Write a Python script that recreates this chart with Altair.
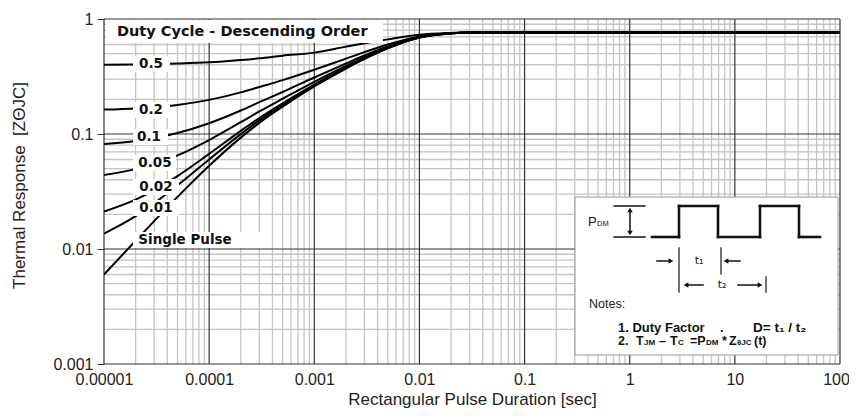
import altair as alt
import pandas as pd

# ---------------- data ----------------
t_sec = [1e-5, 2e-5, 5e-5, 1e-4, 2e-4, 3e-4, 5e-4, 1e-3, 2e-3, 3e-3, 5e-3,
         1e-2, 2e-2, 3e-2, 1e-1, 1, 10, 100]
d_050 = [0.40, 0.403, 0.41, 0.42, 0.44, 0.455, 0.48, 0.51, 0.575, 0.615, 0.665,
         0.73, 0.757, 0.765, 0.765, 0.765, 0.765, 0.765]
d_020 = [0.163, 0.167, 0.179, 0.198, 0.23, 0.256, 0.294, 0.362, 0.452, 0.515, 0.60,
         0.706, 0.753, 0.765, 0.765, 0.765, 0.765, 0.765]
d_010 = [0.082, 0.087, 0.102, 0.124, 0.16, 0.189, 0.232, 0.31, 0.41, 0.482, 0.578,
         0.698, 0.752, 0.765, 0.765, 0.765, 0.765, 0.765]
d_005 = [0.044, 0.0495, 0.0652, 0.0886, 0.1266, 0.157, 0.2026, 0.284, 0.3907, 0.4658, 0.5674,
         0.6938, 0.751, 0.765, 0.765, 0.765, 0.765, 0.765]
d_002 = [0.0212, 0.0269, 0.0431, 0.0672, 0.1064, 0.1378, 0.1848, 0.2691, 0.3789, 0.4563, 0.5612,
         0.6915, 0.75, 0.765, 0.765, 0.765, 0.765, 0.765]
d_001 = [0.0136, 0.0193, 0.0358, 0.0601, 0.0997, 0.1314, 0.1789, 0.2641, 0.3749, 0.4532, 0.5591,
         0.6908, 0.75, 0.765, 0.765, 0.765, 0.765, 0.765]
single = [0.006, 0.0118, 0.0284, 0.053, 0.093, 0.125, 0.173, 0.259, 0.371, 0.45, 0.557,
          0.69, 0.75, 0.765, 0.765, 0.765, 0.765, 0.765]

series_names = ["0.5", "0.2", "0.1", "0.05", "0.02", "0.01", "Single Pulse"]
series_vals = [d_050, d_020, d_010, d_005, d_002, d_001, single]

x_major = [1e-5, 1e-4, 1e-3, 1e-2, 1e-1, 1, 10, 100]
y_major = [0.001, 0.01, 0.1, 1]
x_minor = [m * 10.0 ** k for k in range(-5, 2) for m in range(2, 10)]
y_minor = [m * 10.0 ** k for k in range(-3, 0) for m in range(2, 10)]

rows = []
for name, vals in zip(series_names, series_vals):
    for tt, v in zip(t_sec, vals):
        rows.append({"series": name, "t": tt, "z": v})
curves_df = pd.DataFrame(rows)

xs = alt.Scale(type="log", domain=[1e-5, 100], nice=False)
ys = alt.Scale(type="log", domain=[0.001, 1], nice=False)

FONT = "Liberation Sans"
BOLD = "DejaVu Sans"
MINOR = "#c4c4c4"
MAJOR = "#333333"
NB = "\u00a0"

x_axis = alt.Axis(values=x_major, format=".5~f", ticks=False, labelPadding=7, grid=False,
                  domain=False, labelFont=FONT, labelFontSize=16, labelColor="#222",
                  labelFlush=False, labelOverlap=False,
                  labelOffset={"condition": {"test": "datum.value >= 100", "value": -4}, "value": 0},
                  title="Rectangular Pulse Duration [sec]", titleFont=FONT, titleFontSize=17,
                  titleFontWeight="normal", titleColor="#222", titleY=27)
y_axis = alt.Axis(values=y_major, format=".3~f", tickSize=7, tickColor=MAJOR, labelPadding=4,
                  grid=False, domain=False, labelFont=FONT, labelFontSize=16, labelColor="#222",
                  labelFlush=False, labelOverlap=False,
                  title="Thermal Response " + NB + "[ZΘJC]", titleFont=FONT, titleFontSize=17,
                  titleFontWeight="normal", titleColor="#222", titleX=-76, titleY=166)

# ---------------- grid ----------------
gx_minor = alt.Chart(pd.DataFrame({"gx": x_minor})).mark_rule(color=MINOR, strokeWidth=1.3).encode(
    x=alt.X("gx:Q", scale=xs, axis=x_axis))
gy_minor = alt.Chart(pd.DataFrame({"gy": y_minor})).mark_rule(color=MINOR, strokeWidth=1.3).encode(
    y=alt.Y("gy:Q", scale=ys, axis=y_axis))
gx_major = alt.Chart(pd.DataFrame({"gx": x_major})).mark_rule(color=MAJOR, strokeWidth=1.2).encode(
    x=alt.X("gx:Q", scale=xs, axis=x_axis))
gy_major = alt.Chart(pd.DataFrame({"gy": y_major})).mark_rule(color=MAJOR, strokeWidth=1.2).encode(
    y=alt.Y("gy:Q", scale=ys, axis=y_axis))

# ---------------- curves ----------------
curves = alt.Chart(curves_df).mark_line(color="black", strokeWidth=2, interpolate="monotone", clip=True).encode(
    x=alt.X("t:Q", scale=xs, axis=x_axis),
    y=alt.Y("z:Q", scale=ys, axis=y_axis),
    detail="series:N",
)

# ---------------- annotation helpers (pixel positions inside plot area) ----------------
one = pd.DataFrame({"a": [0]})


def rect(x0, x1, y0, y1, stroke=None):
    kw = dict(fill="white")
    if stroke:
        kw.update(stroke=stroke, strokeWidth=1)
    return alt.Chart(one).mark_rect(**kw).encode(
        x=alt.value(x0), x2=alt.value(x1), y=alt.value(y0), y2=alt.value(y1))


def seg(x0, y0, x1, y1, w=1.5, color="#111"):
    return alt.Chart(one).mark_rule(color=color, strokeWidth=w, strokeCap="square").encode(
        x=alt.value(x0), x2=alt.value(x1), y=alt.value(y0), y2=alt.value(y1))


def txt(s, x, y, size=13, weight="bold", align="left", font=BOLD, color="#111"):
    return alt.Chart(one).mark_text(text=s, fontSize=size, fontWeight=weight, align=align,
                                    baseline="middle", font=font, color=color).encode(
        x=alt.value(x), y=alt.value(y))


def head(x, y, shape, size=40):
    return alt.Chart(one).mark_point(shape=shape, size=size, filled=True, color="#111", opacity=1).encode(
        x=alt.value(x), y=alt.value(y))


ann = []
# header box
ann.append(rect(2, 279, 1, 24))
ann.append(txt("Duty Cycle - Descending Order", 13, 13, size=14.5))

# series labels: (text, center x, center y, box left, box right)
label_specs = [
    ("0.5", 47, 45, 29, 66),
    ("0.2", 47, 91, 29, 66),
    ("0.1", 45, 118, 29, 64),
    ("0.05", 51, 144, 29, 72),
    ("0.02", 52, 168, 29, 75),
    ("0.01", 52, 189, 29, 75),
    ("Single Pulse", 81, 221, 29, 158),
]
for s, cx, cy, bl, br in label_specs:
    ann.append(rect(bl, br, cy - 8, cy + 8))
for s, cx, cy, bl, br in label_specs:
    ann.append(txt(s, cx, cy, size=13.5, align="center"))

# inset box
ann.append(rect(471, 734, 178, 336, stroke="#999"))

# PDM bracket
ann.append(seg(510, 187, 541, 187, w=1.3))
ann.append(seg(510, 218, 541, 218, w=1.3))
ann.append(seg(526, 191, 526, 214, w=1.5))
ann.append(head(526, 191, "triangle-up", 30))
ann.append(head(526, 214, "triangle-down", 30))
ann.append(txt("P", 484, 203, size=13, weight="normal", font=FONT))
ann.append(txt("DM", 493, 205, size=7.5, weight="normal", font=FONT))

# waveform
wave = [(548, 218), (575, 218), (575, 187), (614, 187), (614, 218), (656, 218),
        (656, 187), (695, 187), (695, 218), (716, 218)]
for (xa, ya), (xb, yb) in zip(wave[:-1], wave[1:]):
    ann.append(seg(xa, ya, xb, yb, w=2.6))

# t1 / t2 markers
ann.append(seg(575, 229, 575, 273, w=1.5, color="#444"))
ann.append(seg(617, 229, 617, 255, w=1.5, color="#444"))
ann.append(seg(662, 258, 662, 273, w=1.5, color="#444"))
ann.append(seg(553, 242, 566, 242, w=1.5))
ann.append(head(567, 242, "triangle-right", 30))
ann.append(seg(623, 242, 636, 242, w=1.5))
ann.append(head(622, 242, "triangle-left", 30))
ann.append(txt("t₁", 595, 242, size=11, weight="normal", font="DejaVu Sans", align="center"))
ann.append(seg(583, 266, 599, 266, w=1.5))
ann.append(head(582, 266, "triangle-left", 30))
ann.append(txt("t₂", 618, 266, size=11, weight="normal", font="DejaVu Sans", align="center"))
ann.append(seg(634, 266, 655, 266, w=1.5))
ann.append(head(656, 266, "triangle-right", 30))

# notes
ann.append(txt("Notes:", 485, 285, size=12.5, weight="normal", font=FONT, color="#222"))
line1 = [("1. Duty Factor", 514, 13, 0), (".", 616, 13, 0), ("D= t₁ / t₂", 649, 13.5, 0)]
line2 = [("2.", 514, 12.5, 0), ("T", 532, 12.5, 0), ("JM", 540, 8, 2), ("–", 555, 12.5, 0),
         ("T", 566, 12.5, 0), ("C", 574, 8, 2), ("=P", 586, 12.5, 0), ("DM", 602, 8, 2),
         ("*", 618, 12.5, 0), ("Z", 625, 12.5, 0), ("θJC", 633, 8, 2), ("(t)", 650, 12.5, 0)]
for s, x, size, dy in line1:
    ann.append(txt(s, x, 309 + dy, size=size, weight="bold", font=FONT))
for s, x, size, dy in line2:
    ann.append(txt(s, x, 322 + dy, size=size, weight="bold", font=FONT))

chart = alt.layer(gx_minor, gy_minor, gx_major, gy_major, curves, *ann).properties(
    width=736, height=345,
    autosize=alt.AutoSizeParams(type="none"),
    padding={"left": 96, "top": 11, "right": 9, "bottom": 44},
    background="white",
).configure_view(stroke=None)

chart.save("out.html", embed_options={"renderer": "svg", "actions": False})
